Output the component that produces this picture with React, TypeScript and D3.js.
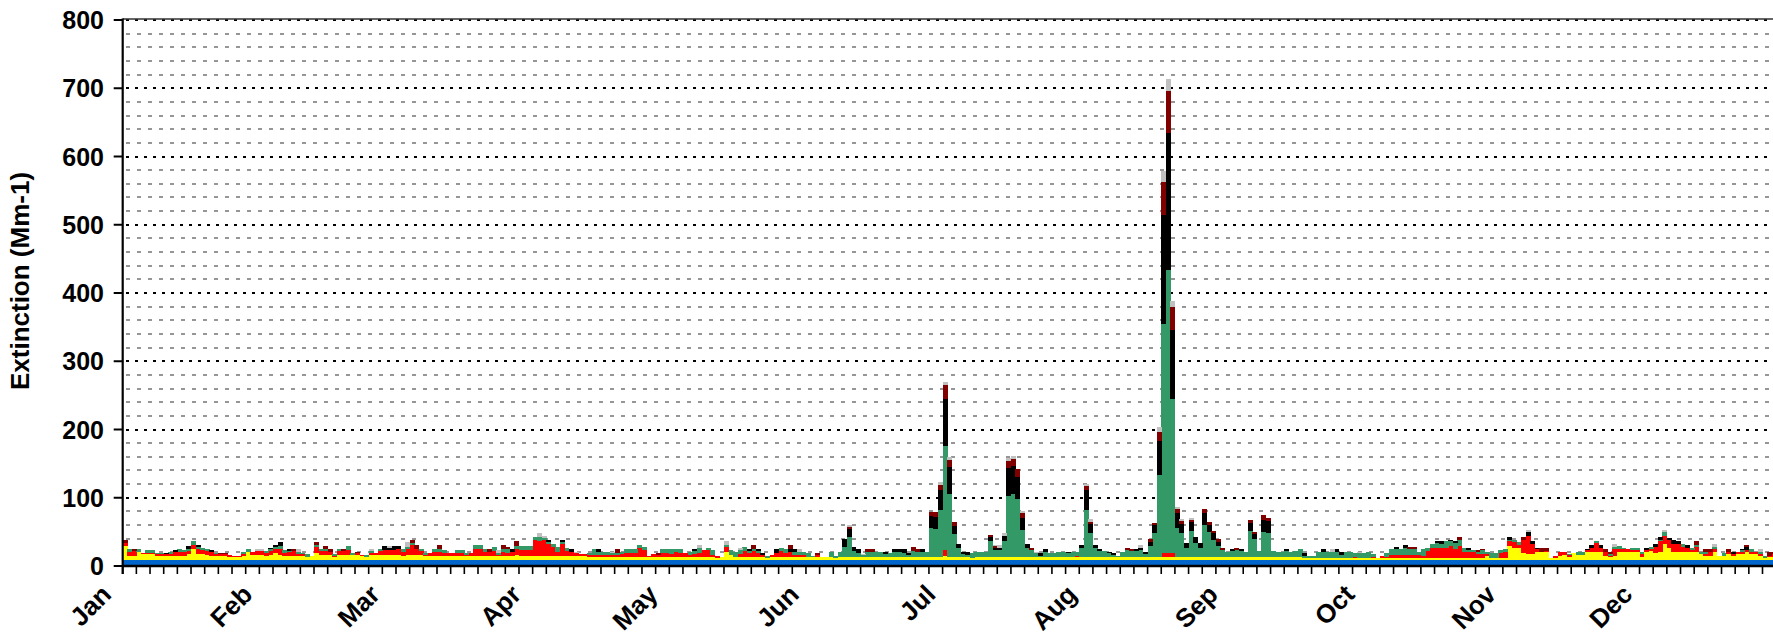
import React from 'react';
import * as d3 from 'd3';

// ---------- DATA (daily light extinction, Mm-1) ----------
const months = ['Jan', 'Feb', 'Mar', 'Apr', 'May', 'Jun', 'Jul', 'Aug', 'Sep', 'Oct', 'Nov', 'Dec'];
const monthStartDay = [0, 31, 59, 90, 120, 151, 181, 212, 243, 273, 304, 334];
const yTickValues = [0, 100, 200, 300, 400, 500, 600, 700, 800];

// Rayleigh scattering (constant)
const rayleigh = 8.5;

// Ammonium sulfate (yellow), per month
const sulfate: number[][] = [
  [21.5,6.5,5.5,12,8.5,9.5,9.5,6.5,5.5,5.5, 5.5,5.5,5.5,6.5,8.5,16.5,9.5,9.5,7.5,6.5, 5.5,5.5,5.5,4.5,4.5,4.5,6.5,12,7.5,7.5, 7.5],
  [6.5,7.5,10.5,7.5,6.5,6.5,5.5,5.5,5.5,5, 5.5,10.5,7.5,7.5,7.5,4.5,7.5,7.5,7.5,7, 7.5,6.5,5,7.5,7.5,7.5,7.5,7.5],
  [7.5,7.5,6.5,7.5,7.5,7.5,7.5,5.5,6.5,6.5, 6.5,6.5,6.5,6.5,6.5,6.5,5.5,6.5,6.5,6.5, 6.5,6.5,6.5,5.5,6.5,6.5,6.5,7.5,6.5,6.5, 6.5],
  [6,6,6,6,6,6,6,6,6,6, 6,6,4,4,4,5,5,5,5,5, 5,5,5,5,5,4,5,5,5,5],
  [5,5,5,5,5,5,5,5,5,5, 3,4,12,8,5,5,5,5,5,5, 5,3,5,5,5,5,5,5,5,5, 4],
  [4,4,5,4,4,3,4,4,4,4, 4,4,4,4,4,4,4,4,4,4, 4,4,4,4,4,4,4,4,4,6],
  [4,4,4,4,4,3,4,4,4,4, 4,4,4,4,4,4,4,4,4,4, 4,4,4,4,4,4,4,4,4,4, 4],
  [4,4,4,4,4,4,4,4,4,5, 4,4,4,4,4,4,4,4,4,4, 4,4,4,4,4,4,4,4,4,4, 4],
  [4,4,4,4,4,5,4,4,4,4, 4,4,4,4,4,4,3,3,3,3, 3,3,3,3,3,3,3,3,3,3],
  [3,3,3,3,3,3,3,3,3,3, 3,3,3,3,3,3,3,3,3,3, 3,3,3,3,3,3,6,3,3,3, 3],
  [21,17.5,17.5,10,8.5,8.5,12,12,12,3.5, 3,6,8,5,10,8,8,12,12,12, 12,6,4,6,12,12,12,12,12,5],
  [12,14,11,12,24,17.5,12,12,12,12, 12,12,8.5,6,6,12,6,6,8.5,6, 8.5,8.5,12,8.5,8.5,6,3,4,4,5, 5],
];

// Ammonium nitrate (red)
const nitrate: number[][] = [
  [3.5,5.5,7.5,0,2.5,1.5,1.5,2.5,3.5,3.5, 3.5,6.5,6.5,5.5,4.5,6.5,7.5,5.5,5.5,5.5, 3.5,3.5,3.5,2.5,1.5,1.5,2.5,0,4.5,5.5, 5.5],
  [4.5,6.5,5.5,8.5,4.5,5.5,7.5,3.5,3.5,0, 0.5,9.5,5.5,5.5,4.5,1.5,5.5,5.5,7.5,0, 2.5,1.5,0,3.5,3.5,6.5,7.5,7.5],
  [7.5,9.5,5.5,8.5,14.5,9.5,5.5,2.5,4.5,5.5, 5.5,4.5,4.5,4.5,4.5,4.5,1.5,4.5,10.5,10.5, 5.5,5.5,7.5,1.5,5.5,4.5,5.5,9.5,8.5,8.5, 8.5],
  [24,22,24,18,14,6.5,18,7.5,6,4, 3,3,3,4,4,2,2,2,3,4, 6,6,6,13,10,2,4,3,6,6],
  [4,7,6,5,2,4,5,10,10,3, 3,0,7.5,0,0,3.5,9,5,9,5, 2,0,3,6,8,5,7,3,3,2, 0],
  [0,3,0,0,0,0,0,0,0,0, 0,0,0,0,0,0,0,0,0,0, 0,0,0,0,0,0,0,0,0,9],
  [0,0,0,0,0,0,0,0,0,0, 0,0,0,0,0,0,0,0,0,0, 0,0,0,0,0,0,0,0,2,0, 0],
  [0,0,0,0,0,0,0,0,0,0, 0,0,0,1,0,0,6,6,6,0, 1,0,0,0,0,0,0,0,0,0, 0],
  [0,0,0,0,0,0,0,0,1,1, 0,0,0,0,0,0,0,0,0,0, 0,0,0,0,0,0,0,2,0,0],
  [0,2,0,3,2,5,5,5,5,5, 5,5,3,10,15,15.5,15,15,18,13, 18,9,9,9,5.5,5.5,2.5,0,0,8, 9],
  [6.5,9,5,20,27.5,15,4,0,2,0, 3,6,3.5,3,0,0,0,3,6.5,12.5, 6.5,6,2,10,4,4,4,3,3,3.5],
  [3,2,8.5,16,12,12,11.5,12,8,6.5, 3,8,0,3,6,4,0,0,3.5,2.5, 3.5,3,3,3.5,3.5,2.5,0,2,5,4, 4],
];

// Organic mass (green)
const organic: number[][] = [
  [0,4,0,4,0,4,4,2,2,0, 3,0,4,3,3,5,2,3,3,0, 2,0,0,0,0,0,3,4,0,0, 0],
  [2,2,3,5,4,2,0,3,2,4, 0,3,4,3,0,3,4,0,6,4, 0,0,3,2,0,3,0,0],
  [0,0,4,4,3,0,3,3,0,4, 5,4,0,0,4,4,4,0,5,5, 5,0,5,4,4,5,0,4,6,6, 6],
  [4,6,3,3,3.5,6.5,2.5,4,0,0, 0,0,4,8,4,5,5,3,3,3, 6,6,6,5,5,0,0,0,5,5],
  [7,4,5,0,5,4,8,0,2.5,7, 0,0,3.5,6.5,7,6.5,6,3,3,3, 0,3,0,0,5,6,0,4,4,5, 6],
  [2,0,0,0,8,3,8,15,30,10, 7,3,8,8,8,8,5,7,8,8, 7,4,10,8,8,8,42.5,42,69.5,153],
  [93.5,34.5,14,5,4,7.5,7.5,7.5,7.5,23.5, 11,11,23.5,90.5,93.5,85.5,40.5,14.5,11,6, 2.5,7.5,6,6,7.5,7.5,6,7.5,6,13.5, 69.5],
  [36.5,13.5,10,9,6,4,1.5,8,11.5,9, 10,11,5,16.5,36,120.5,336.5,415.5,226,43.5, 35,14,38.5,21.5,14,47,37,26,17.5,11.5, 8],
  [9,11.5,9,7.5,38.5,26,9,37,35,8, 7.5,8,10,8,10,12,2.5,3,3,9, 9,9,9,9,5,9,9,5,7,7],
  [9,4,0,0,5,8,8,8,10.5,8, 8,4,10,5,6,6,6,10,6.5,8.5, 9,6.5,3,3,3.5,6,3.5,7,7,4, 5],
  [2.5,3.5,3.5,0,0,0,0,0,0,0, 0,0,0,1,0,4,4,0,0,4, 0,0,2.5,4,5,1.5,0,2.5,2.5,3.5],
  [0,4,0,2,5,0,0,0,3.5,0, 2.5,2.5,3.5,3,0,4,0,4,0,0, 0,3.5,0,4,0,3.5,3,0,0,0, 0],
];

// Elemental carbon (black)
const elemental: number[][] = [
  [0,0,0,0,0,0,0,0,0,2, 0,3,0,0,5,0,3,0,0,3, 0,0,0,0,0,0,0,0,0,0, 0],
  [0,2,4,6,0,2,0,0,0,0, 0,0,0,0,0,0,0,0,0,0, 0,0,0,0,0,0,6,3],
  [6,4,0,0,0,0,0,0,0,0, 0,0,0,0,0,0,0,0,0,0, 0,0,0,0,0,0,4,0,0,0, 0],
  [0,0,0,3,0,0,3.5,0,4,0, 0,0,0,0,4,0,0,0,0,0, 0,0,0,0,0,0,0,0,0,0],
  [0,0,0,0,0,3,0,0,0,0, 0,0,0,0,0,0,0,3,0,3, 3,0,0,5,0,0,5,5,0,0, 0],
  [0,0,0,0,0,0,0,12,11,5, 5,0,0,0,0,0,3,0,4,4, 5,3,0,0,4,0,18,18,30,67.5],
  [38.5,12,5.5,2.5,3.5,0,0,0,0,6, 3.5,3.5,8,40.5,41,33,17,5,0,0, 3.5,5,0,0,0,0,2,0,0,5, 30],
  [13,5,2.5,0,2,2.5,0,0,0,0, 2.5,3,2.5,5.5,11,50,159,200,101.5,21, 13.5,6.5,13,8.5,6.5,17.5,10.5,10,5.5,0, 0],
  [4,0,4,0,12,7.5,0,18.5,17,0, 0,0,2,0,0,0,4.5,0,0,0, 4,0,0,4,4,0,0,0,0,0],
  [0,0,0,0,0,0,3,0,4,0, 0,0,0,0,0,4,4,0,2.5,4, 0,0,2.5,0,0,0,0,0,0,0, 0],
  [4,0,0,0,5,5,2.5,0,0,0, 0,0,0,0,0,0,0,1,4,0, 4,0,0,0,0,0,0,0,0,0],
  [2.5,0,4,4,0,3.5,6.5,3.5,0,4, 0,0,0,0,0,0,0,0,0,3.5, 0,1.5,4,0,0,0,0,0,0,0, 0],
];

// Soil (dark red)
const soil: number[][] = [
  [4,0,4,0,0,0,0,0,0,0, 0,0,0,0,0,0,0,0,0,0, 0,2,2,0,0,0,0,0,0,0, 0],
  [0,0,0,0,0,0,3,0,0,0, 0,4,0,5,4,0,0,4,0,0, 2,0,0,0,0,0,0,0],
  [0,0,0,0,4,5,0,0,0,0, 5,0,0,0,0,0,0,0,0,0, 0,5,0,0,6,3,0,7,0,0, 0],
  [0,0,0,0,0,0,0,0,0,0, 0,0,0,0,0,0,0,0,5,0, 0,0,0,0,0,0,0,3,0,0],
  [0,0,0,0,0,0,0,0,0,0, 0,0,0,0,0,0,0,0,5,0, 0,0,0,0,0,0,5,0,0,0, 0],
  [0,3,0,0,0,0,0,0,4,0, 0,0,4,4,0,0,0,0,0,0, 0,0,5,4,0,0,6,6,6.5,21],
  [11.5,6,0,0,0,0,0,0,0,3, 2,0,0,11,10,11,7.5,0,3.5,0, 0,0,0,0,0,0,0,0,0,0, 5.5],
  [3,0,0,0,0,0,0,0,2.5,2.5, 0,0,0,3.5,4,14,49,62.5,33.5,6, 3.7,0,3,0,0,6,4.5,3.5,3.4,2.5, 0],
  [0,2.5,0,0,5,2.5,0,6,5,0, 0,0,0,0,0,0,0,0,0,0, 0,0,0,0,0,0,0,0,0,0],
  [0,0,0,0,0,0,0,0,0,3, 3,0,0,0,0,0,0,0,0,0, 4,0,0,0,3,2,0,0,0,0, 0],
  [0,0,0,4,0,0,0,5.5,3.5,0, 0,0,0,0,0,0,0,0,0,0, 0,4,3.5,0,0,0,0,0,0,0],
  [0,0,0,0,0,0,0,0,0,0, 0,6,0,4,4,0,0,0,4,0, 0,0,3.5,0,0,0,0,6,3,0, 0],
];

// Coarse mass (light gray)
const coarse: number[][] = [
  [0,0,0,0,0,0,0,0,0,0, 0,0,0,0,0,0,0,0,0,0, 0,0,0,0,0,0,0,0,0,3, 3],
  [0,0,0,0,0,0,0,4,0,0, 0,0,0,0,0,0,0,0,0,0, 0,0,0,3,0,0,0,3],
  [0,0,0,7,0,0,0,0,0,0, 0,0,0,0,0,0,0,0,0,0, 0,0,0,4,0,0,0,0,0,0, 0],
  [0,6,3,0,0,0,0,0,0,2, 0,0,0,0,0,0,0,2,0,0, 0,0,0,0,0,0,0,0,0,0],
  [0,0,0,0,0,0,4,0,0,0, 0,0,5,0,0,2.5,0,0,0,0, 0,0,0,0,0,0,0,0,4,0, 0],
  [0,0,0,0,0,0,0,0,2,0, 0,2,0,0,0,0,0,0,0,0, 0,0,0,0,0,0,0,0,5,5],
  [3,0,0,0,0,0,0,0,0,0, 2,4,4,3.5,4,0,2.5,0,0,2.5, 0,0,0,0,0,0,0,0,0,0, 3],
  [4,0,0,0,0,0,0,0,0,0, 0,4,0,0,0,6,16,17.5,8.5,3, 3.3,0,3.6,0,0,0,0,0,0,0, 0],
  [0,0,0,0,0,0,0,0,0,0, 0,0,0,0,0,0,0,0,0,0, 0,0,4,0,0,0,0,0,2,0],
  [0,0,0,0,0,0,0,0,0,0, 0,0,0,0,0,0,0,0,0,0, 0,0,0,0,0,0,0,0,0,0, 0],
  [0,0,0,0,3,0,0,0,0,0, 0,0,0,0,0,0,0,0,0,0, 0,0,0,3.5,0,0,0,0,0,0],
  [0,0,0,0,3,0,0,0,0,0, 0,0,0,0,0,3.5,0,0,0,0, 0,0,0,0,0,4,0,0,0,0, 0],
];

const layerKeys = ['rayleigh', 'sulfate', 'nitrate', 'organic', 'elemental', 'soil', 'coarse'];
const layerColors: Record<string, string> = {
  rayleigh: '#0066CC',
  sulfate: '#FFFF00',
  nitrate: '#FF0000',
  organic: '#339966',
  elemental: '#000000',
  soil: '#800000',
  coarse: '#C0C0C0',
};

// ---------- LAYOUT ----------
const W = 1773;
const H = 641;
const plotLeft = 122.7;
const dayWidth = 4.555;
const plotTop = 20;
const plotBottom = 566;
const FONT = "'Liberation Sans', Arial, Helvetica, sans-serif";

export default function App() {
  const s = sulfate.flat();
  const n = nitrate.flat();
  const o = organic.flat();
  const e = elemental.flat();
  const so = soil.flat();
  const c = coarse.flat();
  const days = d3.range(s.length);

  const rows = days.map((d) => ({
    day: d,
    rayleigh: rayleigh,
    sulfate: s[d] ?? 0,
    nitrate: n[d] ?? 0,
    organic: o[d] ?? 0,
    elemental: e[d] ?? 0,
    soil: so[d] ?? 0,
    coarse: c[d] ?? 0,
  }));

  const x = d3.scaleLinear().domain([0, 365]).range([plotLeft, plotLeft + 365 * dayWidth]);
  const y = d3.scaleLinear().domain([0, 800]).range([plotBottom, plotTop]);
  const stacked = d3.stack<any>().keys(layerKeys)(rows);

  const gridValues = d3.range(20, 801, 20);
  const dayTicks = d3.range(0, 366, 3);
  const xRight = W + 20;

  return (
    <svg
      width={W}
      height={H}
      viewBox={`0 0 ${W} ${H}`}
      style={{ position: 'absolute', left: 0, top: 0, background: '#fff', display: 'block' }}
    >
      <rect x={0} y={0} width={W} height={H} fill="#fff" />
      {/* gridlines */}
      <g shapeRendering="crispEdges">
        {gridValues.map((v) => {
          const major = v % 100 === 0;
          const yy = Math.round(y(v));
          return (
            <line
              key={v}
              x1={126}
              x2={xRight}
              y1={yy}
              y2={yy}
              stroke={major ? '#000' : '#969696'}
              strokeWidth={2}
              strokeDasharray={major ? '3 6' : '4 7'}
            />
          );
        })}
      </g>
      {/* stacked daily bars */}
      <g shapeRendering="crispEdges">
        {stacked.map((layer) => (
          <g key={layer.key} fill={layerColors[layer.key]}>
            {layer.map((p, i) => {
              const h = y(p[0]) - y(p[1]);
              if (h <= 0) return null;
              const d = rows[i].day;
              return (
                <rect
                  key={i}
                  x={x(d)}
                  y={y(p[1])}
                  width={x(d + 1) - x(d) + 0.4}
                  height={h}
                />
              );
            })}
          </g>
        ))}
      </g>
      {/* frame top */}
      <line x1={plotLeft} x2={xRight} y1={plotTop - 1} y2={plotTop - 1} stroke="#333" strokeWidth={1.6} />
      {/* x axis */}
      <line x1={plotLeft} x2={xRight} y1={plotBottom} y2={plotBottom} stroke="#000" strokeWidth={2.4} />
      {dayTicks.map((d) => (
        <line key={d} x1={x(d)} x2={x(d)} y1={plotBottom} y2={plotBottom + 8} stroke="#000" strokeWidth={1.6} />
      ))}
      {/* y axis */}
      <line x1={plotLeft} x2={plotLeft} y1={plotTop - 1.5} y2={plotBottom + 8} stroke="#000" strokeWidth={2.2} />
      {yTickValues.map((v) => (
        <g key={v}>
          <line x1={plotLeft - 9} x2={plotLeft} y1={y(v)} y2={y(v)} stroke="#000" strokeWidth={2} />
          <text
            x={104}
            y={y(v)}
            dy="0.36em"
            textAnchor="end"
            fontFamily={FONT}
            fontWeight="bold"
            fontSize={25}
            fill="#000"
          >
            {v}
          </text>
        </g>
      ))}
      <text
        transform={`translate(29, 281) rotate(-90)`}
        textAnchor="middle"
        fontFamily={FONT}
        fontWeight="bold"
        fontSize={26}
        fill="#000"
      >
        Extinction (Mm-1)
      </text>
      {/* month labels */}
      {months.map((m, i) => (
        <text
          key={m}
          transform={`translate(${x(monthStartDay[i]) - 10}, 596) rotate(-45)`}
          textAnchor="end"
          fontFamily={FONT}
          fontWeight="bold"
          fontSize={26}
          fill="#000"
        >
          {m}
        </text>
      ))}
    </svg>
  );
}
